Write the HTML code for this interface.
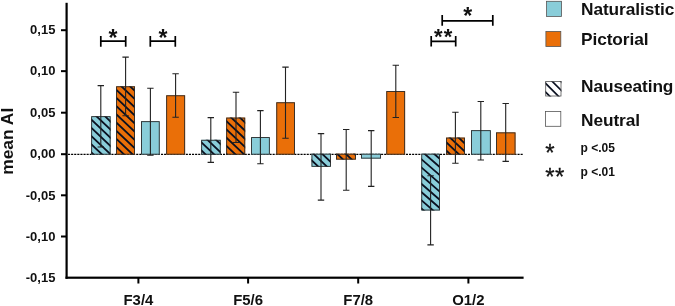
<!DOCTYPE html>
<html><head><meta charset="utf-8"><title>mean AI chart</title>
<style>html,body{margin:0;padding:0;background:#fff;}body{width:675px;height:306px;overflow:hidden;}svg{display:block;will-change:transform;}text{font-family:"Liberation Sans",sans-serif;fill:#111;}</style>
</head><body>
<svg width="675" height="306" viewBox="0 0 675 306">
<rect width="675" height="306" fill="#fff"/>
<line x1="68" y1="154.35" x2="523" y2="154.35" stroke="#000" stroke-width="1.15" stroke-dasharray="2.1,1.0"/>
<rect x="91.2" y="116.2" width="19.40" height="38.45" fill="#89cdd9"/>
<clipPath id="c0"><rect x="91.2" y="116.2" width="19.40" height="38.45"/></clipPath>
<path clip-path="url(#c0)" d="M90.20,85.75 L111.60,106.08 M90.20,93.95 L111.60,114.28 M90.20,102.15 L111.60,122.48 M90.20,110.35 L111.60,130.68 M90.20,118.55 L111.60,138.88 M90.20,126.75 L111.60,147.08 M90.20,134.95 L111.60,155.28 M90.20,143.15 L111.60,163.48 M90.20,151.35 L111.60,171.68" stroke="#0a1020" stroke-width="1.8" fill="none"/>
<rect x="91.65" y="116.65" width="18.50" height="37.55" fill="none" stroke="#2a2a2a" stroke-width="0.9"/>
<rect x="116.1" y="86.3" width="18.90" height="68.35" fill="#ea6f08"/>
<clipPath id="c1"><rect x="116.1" y="86.3" width="18.90" height="68.35"/></clipPath>
<path clip-path="url(#c1)" d="M115.10,55.75 L136.00,75.61 M115.10,63.95 L136.00,83.81 M115.10,72.15 L136.00,92.00 M115.10,80.35 L136.00,100.20 M115.10,88.55 L136.00,108.41 M115.10,96.75 L136.00,116.61 M115.10,104.95 L136.00,124.81 M115.10,113.15 L136.00,133.00 M115.10,121.35 L136.00,141.21 M115.10,129.55 L136.00,149.41 M115.10,137.75 L136.00,157.60 M115.10,145.95 L136.00,165.80 M115.10,154.15 L136.00,174.00" stroke="#0a1020" stroke-width="1.8" fill="none"/>
<rect x="116.55" y="86.75" width="18.00" height="67.45" fill="none" stroke="#2a2a2a" stroke-width="0.9"/>
<rect x="141" y="121.2" width="18.70" height="33.45" fill="#89cdd9"/>
<rect x="141.45" y="121.65" width="17.80" height="32.55" fill="none" stroke="#2a2a2a" stroke-width="0.9"/>
<rect x="166.2" y="95.3" width="18.90" height="59.35" fill="#ea6f08"/>
<rect x="166.65" y="95.75" width="18.00" height="58.45" fill="none" stroke="#2a2a2a" stroke-width="0.9"/>
<rect x="201.2" y="139.8" width="19.50" height="14.85" fill="#89cdd9"/>
<clipPath id="c4"><rect x="201.2" y="139.8" width="19.50" height="14.85"/></clipPath>
<path clip-path="url(#c4)" d="M200.20,108.35 L221.70,128.78 M200.20,116.55 L221.70,136.98 M200.20,124.75 L221.70,145.18 M200.20,132.95 L221.70,153.38 M200.20,141.15 L221.70,161.58 M200.20,149.35 L221.70,169.78" stroke="#0a1020" stroke-width="1.8" fill="none"/>
<rect x="201.65" y="140.25" width="18.60" height="13.95" fill="none" stroke="#2a2a2a" stroke-width="0.9"/>
<rect x="226.2" y="117.6" width="19.00" height="37.05" fill="#ea6f08"/>
<clipPath id="c5"><rect x="226.2" y="117.6" width="19.00" height="37.05"/></clipPath>
<path clip-path="url(#c5)" d="M225.20,87.25 L246.20,107.20 M225.20,95.45 L246.20,115.40 M225.20,103.65 L246.20,123.60 M225.20,111.85 L246.20,131.80 M225.20,120.05 L246.20,140.00 M225.20,128.25 L246.20,148.20 M225.20,136.45 L246.20,156.40 M225.20,144.65 L246.20,164.60 M225.20,152.85 L246.20,172.80" stroke="#0a1020" stroke-width="1.8" fill="none"/>
<rect x="226.65" y="118.05" width="18.10" height="36.15" fill="none" stroke="#2a2a2a" stroke-width="0.9"/>
<rect x="251.1" y="137.1" width="18.70" height="17.55" fill="#89cdd9"/>
<rect x="251.55" y="137.55" width="17.80" height="16.65" fill="none" stroke="#2a2a2a" stroke-width="0.9"/>
<rect x="276.3" y="102.3" width="18.60" height="52.35" fill="#ea6f08"/>
<rect x="276.75" y="102.75" width="17.70" height="51.45" fill="none" stroke="#2a2a2a" stroke-width="0.9"/>
<rect x="311.5" y="153.75" width="19.40" height="13.05" fill="#89cdd9"/>
<clipPath id="c8"><rect x="311.5" y="153.75" width="19.40" height="13.05"/></clipPath>
<path clip-path="url(#c8)" d="M310.50,126.40 L331.90,146.73 M310.50,134.60 L331.90,154.93 M310.50,142.80 L331.90,163.13 M310.50,151.00 L331.90,171.33 M310.50,159.20 L331.90,179.53" stroke="#0a1020" stroke-width="1.8" fill="none"/>
<rect x="311.95" y="154.20" width="18.50" height="12.15" fill="none" stroke="#2a2a2a" stroke-width="0.9"/>
<rect x="336.1" y="153.75" width="19.80" height="5.85" fill="#ea6f08"/>
<clipPath id="c9"><rect x="336.1" y="153.75" width="19.80" height="5.85"/></clipPath>
<path clip-path="url(#c9)" d="M335.10,127.30 L356.90,148.01 M335.10,135.50 L356.90,156.21 M335.10,143.70 L356.90,164.41 M335.10,151.90 L356.90,172.61" stroke="#0a1020" stroke-width="1.8" fill="none"/>
<rect x="336.55" y="154.20" width="18.90" height="4.95" fill="none" stroke="#2a2a2a" stroke-width="0.9"/>
<rect x="361" y="153.75" width="20.00" height="4.85" fill="#89cdd9"/>
<rect x="361.45" y="154.20" width="19.10" height="3.95" fill="none" stroke="#2a2a2a" stroke-width="0.9"/>
<rect x="386.3" y="91.1" width="18.80" height="63.55" fill="#ea6f08"/>
<rect x="386.75" y="91.55" width="17.90" height="62.65" fill="none" stroke="#2a2a2a" stroke-width="0.9"/>
<rect x="421.3" y="153.75" width="18.70" height="56.75" fill="#89cdd9"/>
<clipPath id="c12"><rect x="421.3" y="153.75" width="18.70" height="56.75"/></clipPath>
<path clip-path="url(#c12)" d="M420.30,125.48 L441.00,143.49 M420.30,133.68 L441.00,151.69 M420.30,141.88 L441.00,159.89 M420.30,150.08 L441.00,168.09 M420.30,158.28 L441.00,176.29 M420.30,166.48 L441.00,184.49 M420.30,174.68 L441.00,192.69 M420.30,182.88 L441.00,200.89 M420.30,191.08 L441.00,209.09 M420.30,199.28 L441.00,217.29 M420.30,207.48 L441.00,225.49" stroke="#0a1020" stroke-width="1.8" fill="none"/>
<rect x="421.75" y="154.20" width="17.80" height="55.85" fill="none" stroke="#2a2a2a" stroke-width="0.9"/>
<rect x="446.1" y="137.6" width="18.90" height="17.05" fill="#ea6f08"/>
<clipPath id="c13"><rect x="446.1" y="137.6" width="18.90" height="17.05"/></clipPath>
<path clip-path="url(#c13)" d="M445.10,108.35 L466.00,128.20 M445.10,116.55 L466.00,136.40 M445.10,124.75 L466.00,144.60 M445.10,132.95 L466.00,152.80 M445.10,141.15 L466.00,161.00 M445.10,149.35 L466.00,169.20" stroke="#0a1020" stroke-width="1.8" fill="none"/>
<rect x="446.55" y="138.05" width="18.00" height="16.15" fill="none" stroke="#2a2a2a" stroke-width="0.9"/>
<rect x="471" y="130.2" width="19.80" height="24.45" fill="#89cdd9"/>
<rect x="471.45" y="130.65" width="18.90" height="23.55" fill="none" stroke="#2a2a2a" stroke-width="0.9"/>
<rect x="496.1" y="132.4" width="19.40" height="22.25" fill="#ea6f08"/>
<rect x="496.55" y="132.85" width="18.50" height="21.35" fill="none" stroke="#2a2a2a" stroke-width="0.9"/>
<path d="M100.8,85.6 V147 M97.6,85.6 H104.0 M97.6,147 H104.0" stroke="#222" stroke-width="1.1" fill="none"/>
<path d="M125.6,57.1 V115.8 M122.39999999999999,57.1 H128.79999999999998 M122.39999999999999,115.8 H128.79999999999998" stroke="#222" stroke-width="1.1" fill="none"/>
<path d="M150.4,88.2 V155.3 M147.20000000000002,88.2 H153.6 M147.20000000000002,155.3 H153.6" stroke="#222" stroke-width="1.1" fill="none"/>
<path d="M175.6,73.7 V117.2 M172.4,73.7 H178.79999999999998 M172.4,117.2 H178.79999999999998" stroke="#222" stroke-width="1.1" fill="none"/>
<path d="M210.8,117.6 V162.4 M207.60000000000002,117.6 H214.0 M207.60000000000002,162.4 H214.0" stroke="#222" stroke-width="1.1" fill="none"/>
<path d="M236.0,92.3 V142.5 M232.8,92.3 H239.2 M232.8,142.5 H239.2" stroke="#222" stroke-width="1.1" fill="none"/>
<path d="M260.4,110.6 V163.7 M257.2,110.6 H263.59999999999997 M257.2,163.7 H263.59999999999997" stroke="#222" stroke-width="1.1" fill="none"/>
<path d="M285.5,67.1 V138.3 M282.3,67.1 H288.7 M282.3,138.3 H288.7" stroke="#222" stroke-width="1.1" fill="none"/>
<path d="M321.0,133.6 V200.1 M317.8,133.6 H324.2 M317.8,200.1 H324.2" stroke="#222" stroke-width="1.1" fill="none"/>
<path d="M346.2,129.5 V190.2 M343.0,129.5 H349.4 M343.0,190.2 H349.4" stroke="#222" stroke-width="1.1" fill="none"/>
<path d="M371.2,130.6 V186.4 M368.0,130.6 H374.4 M368.0,186.4 H374.4" stroke="#222" stroke-width="1.1" fill="none"/>
<path d="M395.8,65.3 V117.5 M392.6,65.3 H399.0 M392.6,117.5 H399.0" stroke="#222" stroke-width="1.1" fill="none"/>
<path d="M430.6,175.7 V244.9 M427.40000000000003,175.7 H433.8 M427.40000000000003,244.9 H433.8" stroke="#222" stroke-width="1.1" fill="none"/>
<path d="M455.4,112.2 V163.2 M452.2,112.2 H458.59999999999997 M452.2,163.2 H458.59999999999997" stroke="#222" stroke-width="1.1" fill="none"/>
<path d="M480.8,101.5 V160 M477.6,101.5 H484.0 M477.6,160 H484.0" stroke="#222" stroke-width="1.1" fill="none"/>
<path d="M505.7,103.5 V161.4 M502.5,103.5 H508.9 M502.5,161.4 H508.9" stroke="#222" stroke-width="1.1" fill="none"/>
<rect x="65.5" y="2.8" width="2.2" height="276" fill="#000"/>
<rect x="65.5" y="276.6" width="458.1" height="2.2" fill="#000"/>
<rect x="61" y="29.20" width="5" height="2" fill="#000"/>
<text x="55.4" y="34.40" font-size="13" font-weight="bold" text-anchor="end">0,15</text>
<rect x="61" y="70.15" width="5" height="2" fill="#000"/>
<text x="55.4" y="75.35" font-size="13" font-weight="bold" text-anchor="end">0,10</text>
<rect x="61" y="111.70" width="5" height="2" fill="#000"/>
<text x="55.4" y="116.90" font-size="13" font-weight="bold" text-anchor="end">0,05</text>
<rect x="61" y="153.20" width="5" height="2" fill="#000"/>
<text x="55.4" y="158.40" font-size="13" font-weight="bold" text-anchor="end">0,00</text>
<rect x="61" y="194.30" width="5" height="2" fill="#000"/>
<text x="55.4" y="199.50" font-size="13" font-weight="bold" text-anchor="end">-0,05</text>
<rect x="61" y="235.50" width="5" height="2" fill="#000"/>
<text x="55.4" y="240.70" font-size="13" font-weight="bold" text-anchor="end">-0,10</text>
<text x="55.4" y="281.90" font-size="13" font-weight="bold" text-anchor="end">-0,15</text>
<rect x="137.40" y="278" width="2" height="5.5" fill="#000"/>
<text x="138.4" y="304.5" font-size="14.9" font-weight="bold" text-anchor="middle">F3/4</text>
<rect x="247.10" y="278" width="2" height="5.5" fill="#000"/>
<text x="248.1" y="304.5" font-size="14.9" font-weight="bold" text-anchor="middle">F5/6</text>
<rect x="357.20" y="278" width="2" height="5.5" fill="#000"/>
<text x="358.2" y="304.5" font-size="14.9" font-weight="bold" text-anchor="middle">F7/8</text>
<rect x="467.40" y="278" width="2" height="5.5" fill="#000"/>
<text x="468.4" y="304.5" font-size="14.9" font-weight="bold" text-anchor="middle">O1/2</text>
<text transform="translate(13,141.3) rotate(-90) scale(1.09,1)" font-size="16" font-weight="bold" text-anchor="middle">mean AI</text>
<path d="M100.8,41.1 H125.7 M100.8,36 V46.7 M125.7,36 V46.7" stroke="#000" stroke-width="1.7" fill="none"/>
<text x="113.0" y="46.19" font-size="23" font-weight="bold" text-anchor="middle">*</text>
<path d="M150.3,41.1 H175.3 M150.3,36 V46.7 M175.3,36 V46.7" stroke="#000" stroke-width="1.7" fill="none"/>
<text x="163.0" y="46.19" font-size="23" font-weight="bold" text-anchor="middle">*</text>
<path d="M431.2,41.3 H455.7 M431.2,36 V46.6 M455.7,36 V46.6" stroke="#000" stroke-width="1.7" fill="none"/>
<text x="443.75" y="44.29" font-size="22" font-weight="bold" text-anchor="middle" letter-spacing="1.2">**</text>
<path d="M442.2,20.8 H492.8 M442.2,15 V25.8 M492.8,15 V25.8" stroke="#000" stroke-width="1.7" fill="none"/>
<text x="467.65" y="24.13" font-size="23" font-weight="bold" text-anchor="middle">*</text>
<rect x="546.6" y="1.3" width="14.9" height="15.1" fill="#89cdd9" stroke="#555" stroke-width="0.8"/>
<rect x="545.9" y="31.4" width="14.9" height="15.1" fill="#ea6f08" stroke="#555" stroke-width="0.8"/>
<clipPath id="cl"><rect x="545.3" y="81.1" width="16.1" height="15.3"/></clipPath>
<path clip-path="url(#cl)" d="M544,64.5 L564,84.5 M544,73.15 L564,93.15 M544,81.8 L564,101.8 M544,90.45 L564,110.45" stroke="#0a1020" stroke-width="1.7" fill="none"/>
<rect x="545.7" y="81.5" width="15.3" height="14.5" fill="none" stroke="#555" stroke-width="0.8"/>
<rect x="545.5" y="111.4" width="15.3" height="14.9" fill="#fff" stroke="#555" stroke-width="0.8"/>
<text x="581" y="14.9" font-size="17.3" font-weight="bold" letter-spacing="-0.08">Naturalistic</text>
<text x="581" y="45.2" font-size="17.3" font-weight="bold" letter-spacing="-0.08">Pictorial</text>
<text x="581" y="92" font-size="17.3" font-weight="bold" letter-spacing="-0.08">Nauseating</text>
<text x="581" y="126" font-size="17.3" font-weight="bold" letter-spacing="-0.08">Neutral</text>
<text x="545.2" y="160.5" font-size="24" stroke="#111" stroke-width="0.3">*</text>
<text x="545.2" y="184.6" font-size="24" letter-spacing="0.5" stroke="#111" stroke-width="0.3">**</text>
<text x="580.5" y="151.9" font-size="12" font-weight="bold">p &lt;.05</text>
<text x="580.5" y="175.5" font-size="12" font-weight="bold">p &lt;.01</text>
</svg></body></html>
